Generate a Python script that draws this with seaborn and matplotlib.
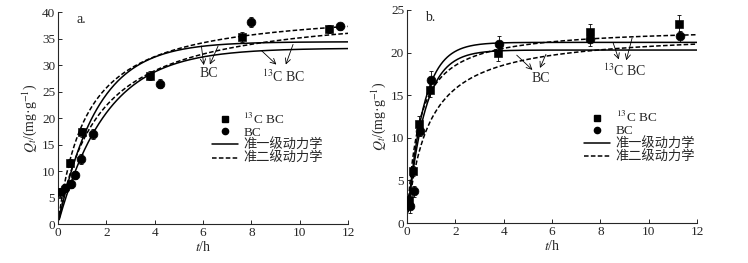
import numpy as np
import pandas as pd
import seaborn as sns
import matplotlib.pyplot as plt
from matplotlib.lines import Line2D

# datos leidos del grafico
# panel a
a_c13_t = [0.1, 0.5, 1.0, 3.8, 7.6, 11.2]
a_c13_q = [6.0, 11.5, 17.3, 28.0, 35.3, 36.8]
a_c13_err = [0.8, 0.8, 0.8, 0.9, 0.9, 0.8]
a_bc_t = [0.3, 0.55, 0.72, 0.95, 1.45, 4.2, 8.0, 11.65]
a_bc_q = [6.8, 7.6, 9.3, 12.3, 17.0, 26.5, 38.1, 37.3]
a_bc_err = [0.7, 0.8, 0.8, 0.9, 0.9, 0.9, 0.9, 0.6]
# panel b
b_c13_t = [0.08, 0.25, 0.48, 0.94, 3.78, 7.55, 11.26]
b_c13_q = [2.7, 6.1, 11.6, 15.6, 20.0, 22.4, 23.3]
b_c13_err = [0.6, 0.6, 1.0, 0.8, 1.0, 1.0, 1.1]
b_bc_t = [0.14, 0.29, 0.53, 1.0, 3.82, 7.58, 11.29]
b_bc_q = [2.0, 3.7, 10.8, 16.8, 21.0, 21.6, 21.9]
b_bc_err = [0.8, 0.7, 0.6, 1.0, 1.0, 0.8, 0.6]

# parametros de los ajustes: (qe, k)
a_pfo = [(34.4, 0.62), (33.2, 0.50)]
a_pso = [(41.0, 0.0205), (41.0, 0.01463)]
b_pfo = [(21.2, 1.5), (20.3, 1.4)]
b_pso = [(23.0, 0.0891), (22.5, 0.0519)]

# flechas: (x_inicio, y_inicio, x_punta, y_punta)
a_arrows_bc = [(5.93, 33.6, 6.03, 30.0), (6.62, 33.6, 6.28, 30.1)]
a_arrows_c13 = [(8.41, 32.75, 9.03, 30.1), (9.72, 33.9, 9.42, 30.1)]
b_arrows_bc = [(4.54, 19.7, 5.19, 17.97), (5.75, 19.8, 5.5, 18.2)]
b_arrows_c13 = [(8.52, 21.2, 8.76, 19.2), (9.31, 21.7, 9.07, 19.1)]

sns.set_style("ticks")
plt.rcParams["font.family"] = ["Liberation Serif", "Noto Sans CJK SC"]
plt.rcParams["mathtext.fontset"] = "stix"
plt.rcParams["font.size"] = 9.5
plt.rcParams["xtick.direction"] = "in"
plt.rcParams["ytick.direction"] = "in"

fig = plt.figure(figsize=(7.48, 2.63), dpi=100)
ax_a = fig.add_axes([0.0775, 0.148, 0.388, 0.806])
ax_b = fig.add_axes([0.544, 0.152, 0.388, 0.81])

t = np.linspace(0.05, 12, 400)


def pfo(qe, k):
    return qe * (1 - np.exp(-k * t))


def pso(qe, k):
    return qe * qe * k * t / (1 + qe * k * t)


def panel(ax, c13_t, c13_q, c13_err, bc_t, bc_q, bc_err, pfo_p, pso_p,
          arr_bc, arr_c13, txt_bc, txt_c13, ymax, ystep, letra, leg_x):
    for qe, k in pfo_p:
        sns.lineplot(x=t, y=pfo(qe, k), ax=ax, color="black", lw=1.1)
    for qe, k in pso_p:
        sns.lineplot(x=t, y=pso(qe, k), ax=ax, color="black", lw=1.1,
                     linestyle=(0, (3, 1.5)))
    ax.errorbar(c13_t, c13_q, yerr=c13_err, fmt="none", ecolor="black",
                elinewidth=0.6, capsize=1.5, capthick=0.6)
    ax.errorbar(bc_t, bc_q, yerr=bc_err, fmt="none", ecolor="black",
                elinewidth=0.6, capsize=1.5, capthick=0.6)
    sns.scatterplot(x=c13_t, y=c13_q, ax=ax, marker="s", color="black",
                    s=30, edgecolor="black", zorder=5)
    sns.scatterplot(x=bc_t, y=bc_q, ax=ax, marker="o", color="black",
                    s=40, edgecolor="black", zorder=5)
    for x0, y0, x1, y1 in arr_bc + arr_c13:
        ax.annotate("", xy=(x1, y1), xytext=(x0, y0),
                    arrowprops=dict(arrowstyle="->", lw=0.6, color="black",
                                    shrinkA=0, shrinkB=0))
    ax.text(txt_bc[0], txt_bc[1], "BC", ha="center", va="center", fontsize=10)
    ax.text(txt_c13[0], txt_c13[1], "$^{13}$C BC", ha="center", va="center",
            fontsize=10)
    ax.text(0.75, ymax * 0.965, letra, ha="left", va="center", fontsize=10)
    ax.set_xlim(0, 12)
    ax.set_ylim(0, ymax)
    ax.set_xticks(range(0, 13, 2))
    ax.set_yticks(np.arange(0, ymax + 0.1, ystep))
    ax.set_xlabel("$t$/h", labelpad=1, fontsize=10)
    ax.set_ylabel("$Q_t$/(mg·g$^{-1}$)", labelpad=2, fontsize=10)
    ax.tick_params(length=3, width=0.7, pad=2)
    for s in ["left", "bottom"]:
        ax.spines[s].set_linewidth(0.8)
    sns.despine(ax=ax)
    handles = [
        Line2D([], [], marker="s", color="black", lw=0, markersize=4),
        Line2D([], [], marker="o", color="black", lw=0, markersize=4.5),
        Line2D([], [], color="black", lw=1.1),
        Line2D([], [], color="black", lw=1.1, linestyle=(0, (3, 1.5))),
    ]
    labels = ["$^{13}$C BC", "BC", "准一级动力学", "准二级动力学"]
    ax.legend(handles, labels, loc="upper left", bbox_to_anchor=(leg_x, 0.53),
              frameon=False, fontsize=9.5, handlelength=2.0,
              handletextpad=0.4, labelspacing=0.0, borderaxespad=0,
              borderpad=0)


panel(ax_a, a_c13_t, a_c13_q, a_c13_err, a_bc_t, a_bc_q, a_bc_err,
      a_pfo, a_pso, a_arrows_bc, a_arrows_c13, (6.23, 28.4), (9.31, 27.75),
      40, 5, "a.", 0.53)
panel(ax_b, b_c13_t, b_c13_q, b_c13_err, b_bc_t, b_bc_q, b_bc_err,
      b_pfo, b_pso, b_arrows_bc, b_arrows_c13, (5.53, 17.0), (8.99, 17.9),
      25, 5, "b.", 0.61)

fig.savefig("out.png", dpi=100)
